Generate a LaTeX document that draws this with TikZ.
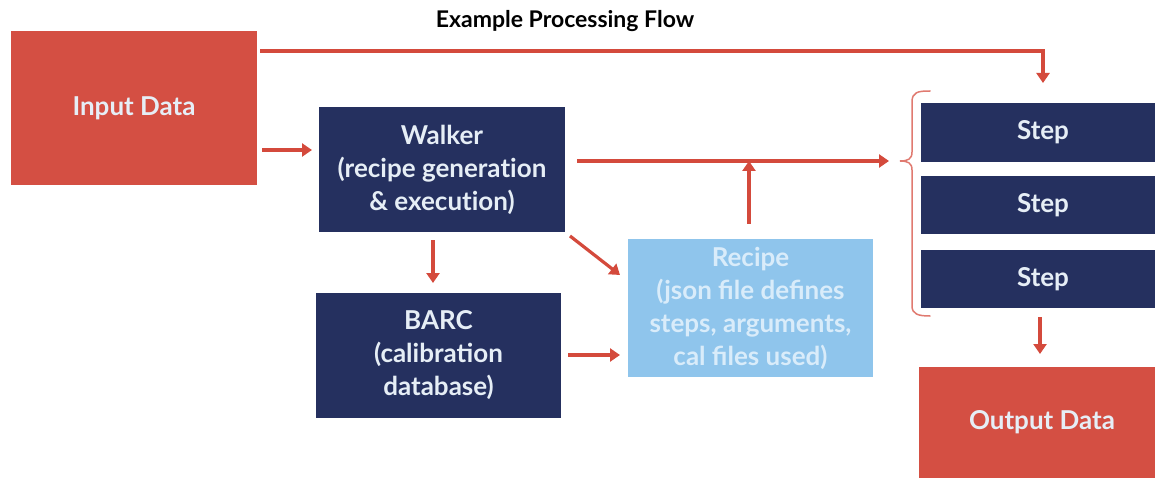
\documentclass[tikz,border=0pt]{standalone}
\usepackage{fontspec}
\setmainfont{Lato}
\usetikzlibrary{arrows.meta,calc}
\definecolor{boxred}{HTML}{D44F43}
\definecolor{navy}{HTML}{25305F}
\definecolor{lblue}{HTML}{8FC5EC}
\definecolor{txt}{HTML}{E6EEF6}
\definecolor{rtxt}{HTML}{D9ECFA}
\definecolor{arr}{HTML}{D44A3C}
\definecolor{brc}{HTML}{E07A70}
\newcommand{\nl}{t\kern0pt i}
\begin{document}
\begin{tikzpicture}[x=1pt,y=-1pt,
  every node/.style={inner sep=0pt,outer sep=0pt,align=center,font=\fontsize{26}{33}\selectfont\bfseries,text=txt},
  redbox/.style={fill=boxred,draw=none},
  navybox/.style={fill=navy,draw=none},
  bluebox/.style={fill=lblue,draw=none,text=rtxt},
  conn/.style={draw=arr,line width=3.2pt,-{Triangle[width=13pt,length=10pt]}}]
\useasboundingbox (0,0) rectangle (1155,478);
\node[font=\fontsize{23}{25}\selectfont\bfseries,text=black] (title) at (565,21) {Example Processing Flow};
\node[redbox,minimum width=246pt,minimum height=154pt] (in) at (134,108) {Input Data};
\node[navybox,minimum width=246pt,minimum height=125pt] (wk) at (442,169.5) {Walker\\(recipe genera\nl on\\\& execu\nl on)};
\node[navybox,minimum width=245pt,minimum height=125pt] (barc) at (438.5,355.5) {BARC\\(calibration\\database)};
\node[bluebox,minimum width=245pt,minimum height=138pt] (rec) at (750.5,308) {Recipe\\(json file defines\\steps, arguments,\\cal files used)};
\node[navybox,minimum width=244pt,minimum height=59pt] (s1) at (1043,132.5) {Step};
\node[navybox,minimum width=244pt,minimum height=58pt] (s2) at (1043,205) {Step};
\node[navybox,minimum width=244pt,minimum height=58pt] (s3) at (1043,279) {Step};
\node[redbox,minimum width=246pt,minimum height=111pt] (out) at (1042,422.5) {Output Data};
\coordinate (bt) at (893,161);
% connectors
\draw[conn] ($(in.north east)+(3,20)$) -| ($(s1.north)+(0,-20)$);
\draw[conn] ($(in.east)+(5,42)$) -- ($(wk.west)+(-7,-19.5)$);
\draw[conn] ($(wk.east)+(12,-8.5)$) -- ($(bt)+(-4,0)$);
\coordinate (j) at ($(rec.north)+(-1.5,0)$);
\draw[conn] ($(j)+(0,-15)$) -- (j |- bt);
\draw[conn] ($(wk.south east)+(5,4)$) -- ($(rec.north west)+(-8,36)$);
\draw[conn] ($(wk.south)+(-9,8)$) -- ($(barc.north)+(-5.5,-10)$);
\draw[conn] ($(barc.east)+(7,-0.5)$) -- ($(rec.west)+(-8,47)$);
\draw[conn] ($(s3.south)+(-3,9)$) -- ($(out.north)+(-2,-13)$);
% brace
\draw[brc,line width=1.5pt,line cap=round]
  (930,91) .. controls (918,91) and (912,92) .. (912,102)
  -- (912,152) .. controls (912,159) and (908,161) .. (900,161)
  .. controls (908,161) and (912,163) .. (912,170)
  -- (912,306) .. controls (912,314) and (918,316) .. (930,316);
\end{tikzpicture}
\end{document}
